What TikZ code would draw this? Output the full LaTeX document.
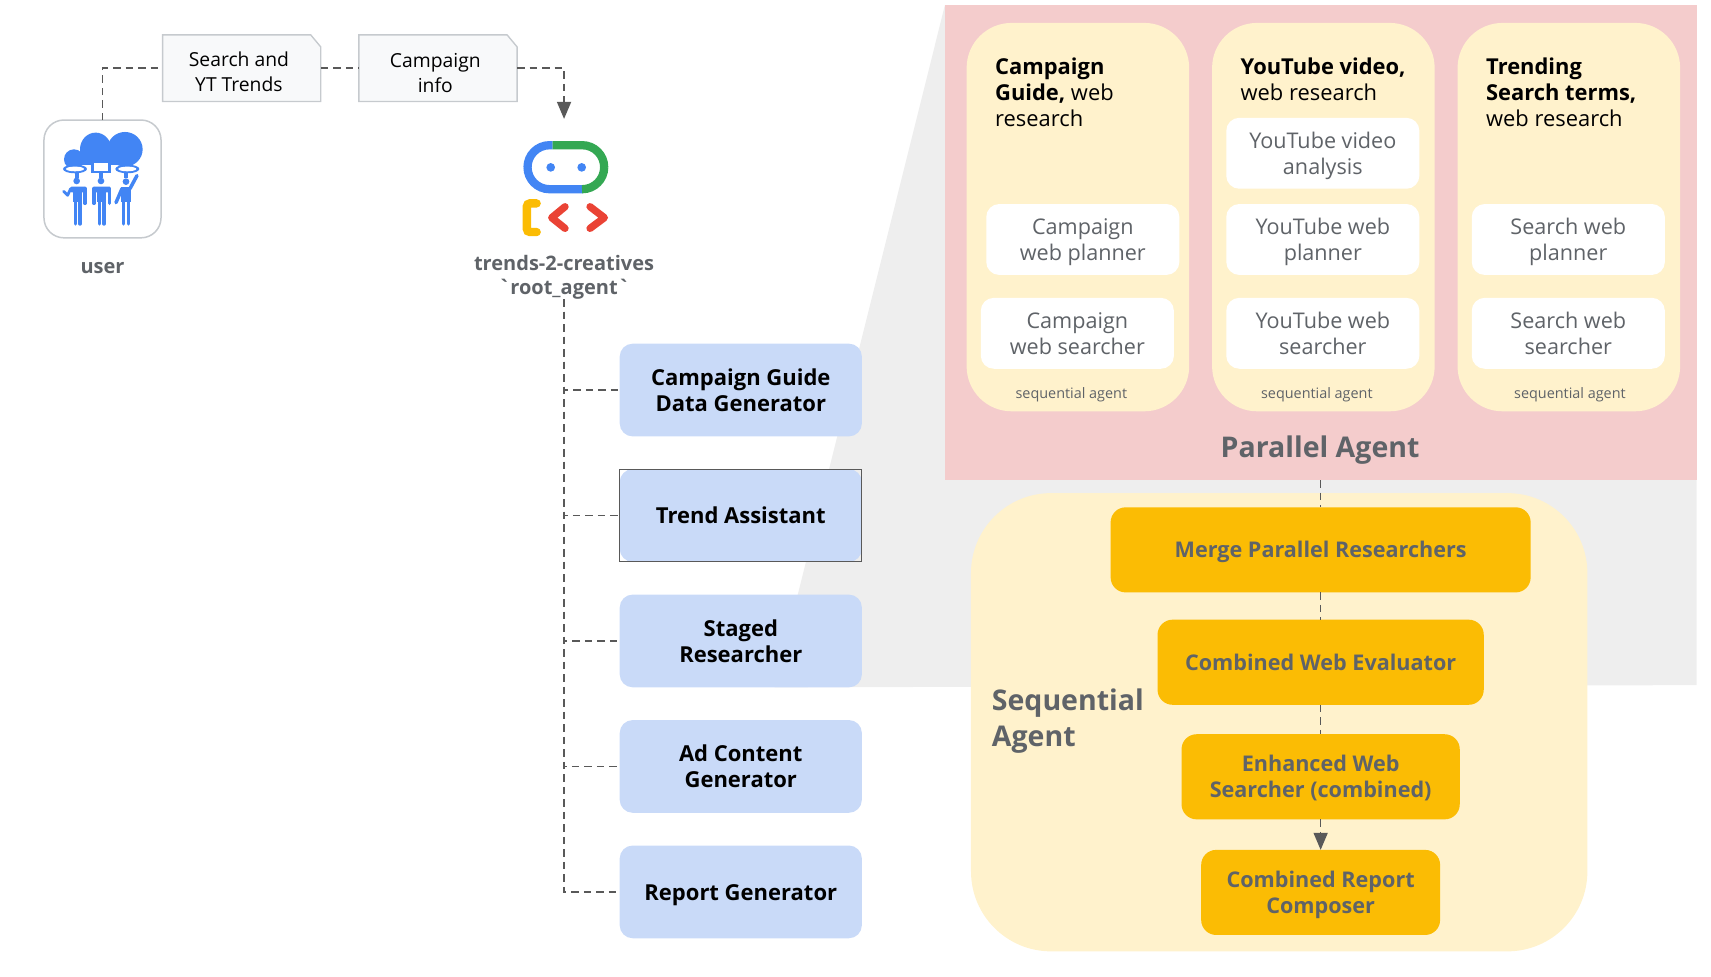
\documentclass[tikz,border=0pt]{standalone}
\usepackage{fontspec}
\setmainfont{Open Sans}
\newfontfamily\rawfam{Open Sans}
\usetikzlibrary{arrows.meta,calc}
\definecolor{ink}{HTML}{5F6368}
\definecolor{line}{HTML}{595959}
\definecolor{gblue}{HTML}{4285F4}
\definecolor{ggreen}{HTML}{34A853}
\definecolor{gyellow}{HTML}{FBBC04}
\definecolor{gred}{HTML}{EA4335}
\definecolor{pinkbg}{HTML}{F4CCCC}
\definecolor{creamp}{HTML}{FFF2CC}
\definecolor{bluebox}{HTML}{C9DAF8}
\definecolor{greybg}{HTML}{EEEEEE}
\definecolor{docfill}{HTML}{F8F9FA}
\definecolor{docline}{HTML}{C6CACE}
\newcommand{\Sc}{1.091}
% name, x1, y1, x2, y2, style, text
\newcommand{\bx}[7]{%
  \pgfmathsetmacro{\cxx}{(#2+#4)/2}\pgfmathsetmacro{\cyy}{(#3+#5)/2}%
  \pgfmathsetmacro{\ww}{(#4-#2)*\Sc}\pgfmathsetmacro{\hh}{(#5-#3)*\Sc}%
  \node[#6,minimum width=\ww pt,minimum height=\hh pt] (#1) at (\cxx,\cyy) {\rule{0pt}{1em}#7\rule[-0.25em]{0pt}{0.25em}};}
\newcommand{\bxe}[6]{%
  \pgfmathsetmacro{\cxx}{(#2+#4)/2}\pgfmathsetmacro{\cyy}{(#3+#5)/2}%
  \pgfmathsetmacro{\ww}{(#4-#2)*\Sc}\pgfmathsetmacro{\hh}{(#5-#3)*\Sc}%
  \node[#6,minimum width=\ww pt,minimum height=\hh pt] (#1) at (\cxx,\cyy) {};}
\tikzset{
  link/.style={draw=line,line width=1.5pt,dash pattern=on 7.5pt off 5pt},
  tip/.style={-{Triangle[length=17pt,width=14pt]}},
  docbox/.style={inner sep=0pt,outer sep=0pt},
  doctext/.style={font=\fontsize{19.3}{25}\selectfont,align=center,text=black,inner sep=0pt},
  bluenode/.style={fill=bluebox,rounded corners=13pt,inner sep=0pt,outer sep=0pt,align=center,text=black,font=\fontsize{22}{26.2}\bfseries\selectfont},
  panel/.style={fill=creamp,rounded corners=45pt,inner sep=0pt,outer sep=0pt},
  whitenode/.style={fill=white,rounded corners=13pt,inner sep=0pt,outer sep=0pt,align=center,text=ink,font=\fontsize{21.6}{26.2}\selectfont},
  head/.style={anchor=north west,inner sep=0pt,align=left,text=black,font=\fontsize{21.9}{26.2}\selectfont},
  seqlabel/.style={text=ink,inner sep=0pt,font=\fontsize{14.4}{17}\selectfont},
  biglabel/.style={text=ink,inner sep=0pt,align=left,font=\fontsize{28.5}{36}\bfseries\selectfont},
  orangenode/.style={fill=gyellow,rounded corners=15pt,inner sep=0pt,outer sep=0pt,align=center,text=ink,font=\fontsize{21.6}{26.2}\bfseries\selectfont},
  smalllabel/.style={text=ink,inner sep=0pt,align=center,font=\fontsize{20}{24}\bfseries\selectfont},
  limb/.style={draw=gblue,line width=3.5pt,line cap=round,line join=round},
}
\begin{document}
\begin{tikzpicture}[x=1.091pt,y=-1.091pt]
\useasboundingbox (0,0) rectangle (1568.3,895.5);
% grey zoom wedge
\fill[greybg] (866,5) -- (710,630) -- (1555,628) -- (1555,5) -- cycle;
% parallel agent
\bxe{par}{866}{5}{1555}{440}{fill=pinkbg,inner sep=0pt,outer sep=0pt}
\bxe{p1}{886}{21}{1090}{377}{panel}
\bxe{p2}{1111}{21}{1315}{377}{panel}
\bxe{p3}{1336}{21}{1540}{377}{panel}
\node[head] (h1) at (912,52.5) {\textbf{Campaign}\\\textbf{Guide,} web\\research};
\node[head] (h2) at (1137,52.5) {\textbf{YouTube video,}\\web research};
\node[head] (h3) at (1362,52.5) {\textbf{Trending}\\\textbf{Search terms,}\\web research};
\bx{c1a}{904}{187}{1081}{252}{whitenode}{Campaign\\web planner}
\bx{c1b}{899}{273}{1076}{338}{whitenode}{Campaign\\web searcher}
\bx{c2z}{1124}{108}{1301}{173}{whitenode}{YouTube video\\analysis}
\bx{c2a}{1124}{187}{1301}{252}{whitenode}{YouTube web\\planner}
\bx{c2b}{1124}{273}{1301}{338}{whitenode}{YouTube web\\searcher}
\bx{c3a}{1349}{187}{1526}{252}{whitenode}{Search web\\planner}
\bx{c3b}{1349}{273}{1526}{338}{whitenode}{Search web\\searcher}
\node[seqlabel] (s1) at (982,362) {sequential agent};
\node[seqlabel] (s2) at (1207,362) {sequential agent};
\node[seqlabel] (s3) at (1439,362) {sequential agent};
\node[biglabel] (parl) at (1210,413) {Parallel Agent};
% sequential agent
\bxe{seq}{890}{452}{1455}{872}{fill=creamp,rounded corners=80pt,inner sep=0pt,outer sep=0pt}
\node[biglabel,anchor=west] (seql) at (909,661) {Sequential\\Agent};
\bx{merge}{1018}{465}{1403}{543}{orangenode}{Merge Parallel Researchers}
\bx{eval}{1061}{568}{1360}{646}{orangenode}{Combined Web Evaluator}
\bx{enh}{1083}{673}{1338}{751}{orangenode}{Enhanced Web\\Searcher (combined)}
\bx{rep}{1101}{779}{1320}{857}{orangenode}{Combined Report\\Composer}
\draw[link] (par.south) -- (merge.north);
\draw[link] (merge.south) -- (eval.north);
\draw[link] (eval.south) -- (enh.north);
\draw[link,tip] (enh.south) -- (rep.north);
% left column
\bx{b1}{568}{315}{790}{400}{bluenode}{Campaign Guide\\Data Generator}
\bx{b2}{568}{430}{790}{515}{bluenode}{Trend Assistant}
\draw[line width=0.9pt,draw=line] (b2.south west) rectangle (b2.north east);
\bx{b3}{568}{545}{790}{630}{bluenode}{Staged\\Researcher}
\bx{b4}{568}{660}{790}{745}{bluenode}{Ad Content\\Generator}
\bx{b5}{568}{775}{790}{860}{bluenode}{Report Generator}
% user
\bxe{user}{40.3}{110}{147.6}{218}{draw=docline,line width=1.5pt,fill=white,rounded corners=20pt,inner sep=0pt,outer sep=0pt}
\begin{scope}[shift={(27.5,100.8)},x=0.3333pt,y=-0.3333pt]
  \fill[gblue] (197,118) ellipse (47 and 50);
  \fill[gblue] (285,118) ellipse (53 and 52);
  \fill[gblue] (132,148) ellipse (30 and 30);
  \fill[gblue] (130,130) rectangle (300,165);
  % speech bubbles
  \fill[gblue] (135,177) ellipse (36 and 13);
  \fill[white] (135,177) ellipse (27 and 7);
  \fill[gblue] (292,177) ellipse (36 and 13);
  \fill[white] (292,177) ellipse (27 and 7);
  \fill[gblue] (183,152) rectangle (243,190);
  \fill[white] (192,160) rectangle (234,182);
  \fill[gblue] (134,188) rectangle (146,204);
  \fill[gblue] (208,188) rectangle (218,204);
  \fill[gblue] (283,188) rectangle (293,204);
  % heads
  \fill[gblue] (140,213) circle (10);
  \fill[gblue] (213,213) circle (10);
  \fill[gblue] (288,215) circle (10);
  % person 1
  \fill[gblue,rounded corners=1.5pt] (120,230) rectangle (170,247);
  \fill[gblue] (129,232) rectangle (157,276);
  \draw[limb] (136,276) -- (136,342);
  \draw[limb] (150,276) -- (150,342);
  \draw[limb] (165,236) -- (165,280);
  \draw[limb,line width=2.8pt] (122,236) -- (113,256) -- (101,244);
  % person 2
  \fill[gblue,rounded corners=1.5pt] (187,230) rectangle (243,247);
  \fill[gblue] (201,232) rectangle (229,276);
  \draw[limb] (208,276) -- (208,342);
  \draw[limb] (222,276) -- (222,342);
  \draw[limb] (192,236) -- (192,280);
  \draw[limb] (238,236) -- (238,280);
  % person 3
  \fill[gblue] (274,230) rectangle (302,276);
  \draw[limb] (281,276) -- (281,342);
  \draw[limb] (295,276) -- (295,342);
  \draw[limb] (276,236) -- (258,278);
  \draw[limb] (300,236) -- (321,197);
\end{scope}
\node[smalllabel] (userl) at (94,246) {user};
% documents
\bxe{d1}{149}{32}{294}{93}{docbox}
\bxe{d2}{329}{32}{474}{93}{docbox}
\filldraw[fill=docfill,draw=docline,line width=1.4pt] (d1.south west) -- (d1.north west) -- ([xshift=-10pt]d1.north east) -- ([yshift=-12pt]d1.north east) -- (d1.south east) -- cycle;
\filldraw[fill=docfill,draw=docline,line width=1.4pt] (d2.south west) -- (d2.north west) -- ([xshift=-10pt]d2.north east) -- ([yshift=-12pt]d2.north east) -- (d2.south east) -- cycle;
\node[doctext] (d1t) at (219,65.5) {Search and\\YT Trends};
\node[doctext] (d2t) at (399,66.5) {Campaign\\info};
% root logo
\begin{scope}[shift={(467.5,119.2)},x=0.3333pt,y=-0.3333pt]
  \draw[gblue,line width=8.3pt,rounded corners=22pt] (128,45.5) -- (52.5,45.5) -- (52.5,177.5) -- (218,177.5);
  \draw[ggreen,line width=8.3pt,rounded corners=22pt] (128,45.5) -- (282.5,45.5) -- (282.5,177.5) -- (218,177.5);
  \fill[gblue] (122,112) circle (13);
  \fill[gblue] (215,112) circle (13);
  \draw[gyellow,line width=8.3pt,line cap=round,rounded corners=3pt] (80,220) -- (50.5,220) -- (50.5,306) -- (80,306);
  \draw[gred,line width=7.3pt,line cap=round,line join=round] (165,230) -- (125,263) -- (165,295);
  \draw[gred,line width=7.3pt,line cap=round,line join=round] (240,230) -- (283,263) -- (240,295);
\end{scope}
\node[smalllabel] (root) at (517,254) {trends-2-creatives\\{\rawfam\bfseries `root\_agent`}};
\coordinate (rootin) at (517,109);
% connectors
\draw[link] (user.north) |- (d1.west);
\draw[link] (d1.east) -- (d2.west);
\draw[link,tip] (d2.east) -| (rootin);
\draw[link] (root.south) |- (b1.west);
\draw[link] (root.south) |- (b2.west);
\draw[link] (root.south) |- (b3.west);
\draw[link] (root.south) |- (b4.west);
\draw[link] (root.south) |- (b5.west);
\end{tikzpicture}
\end{document}
